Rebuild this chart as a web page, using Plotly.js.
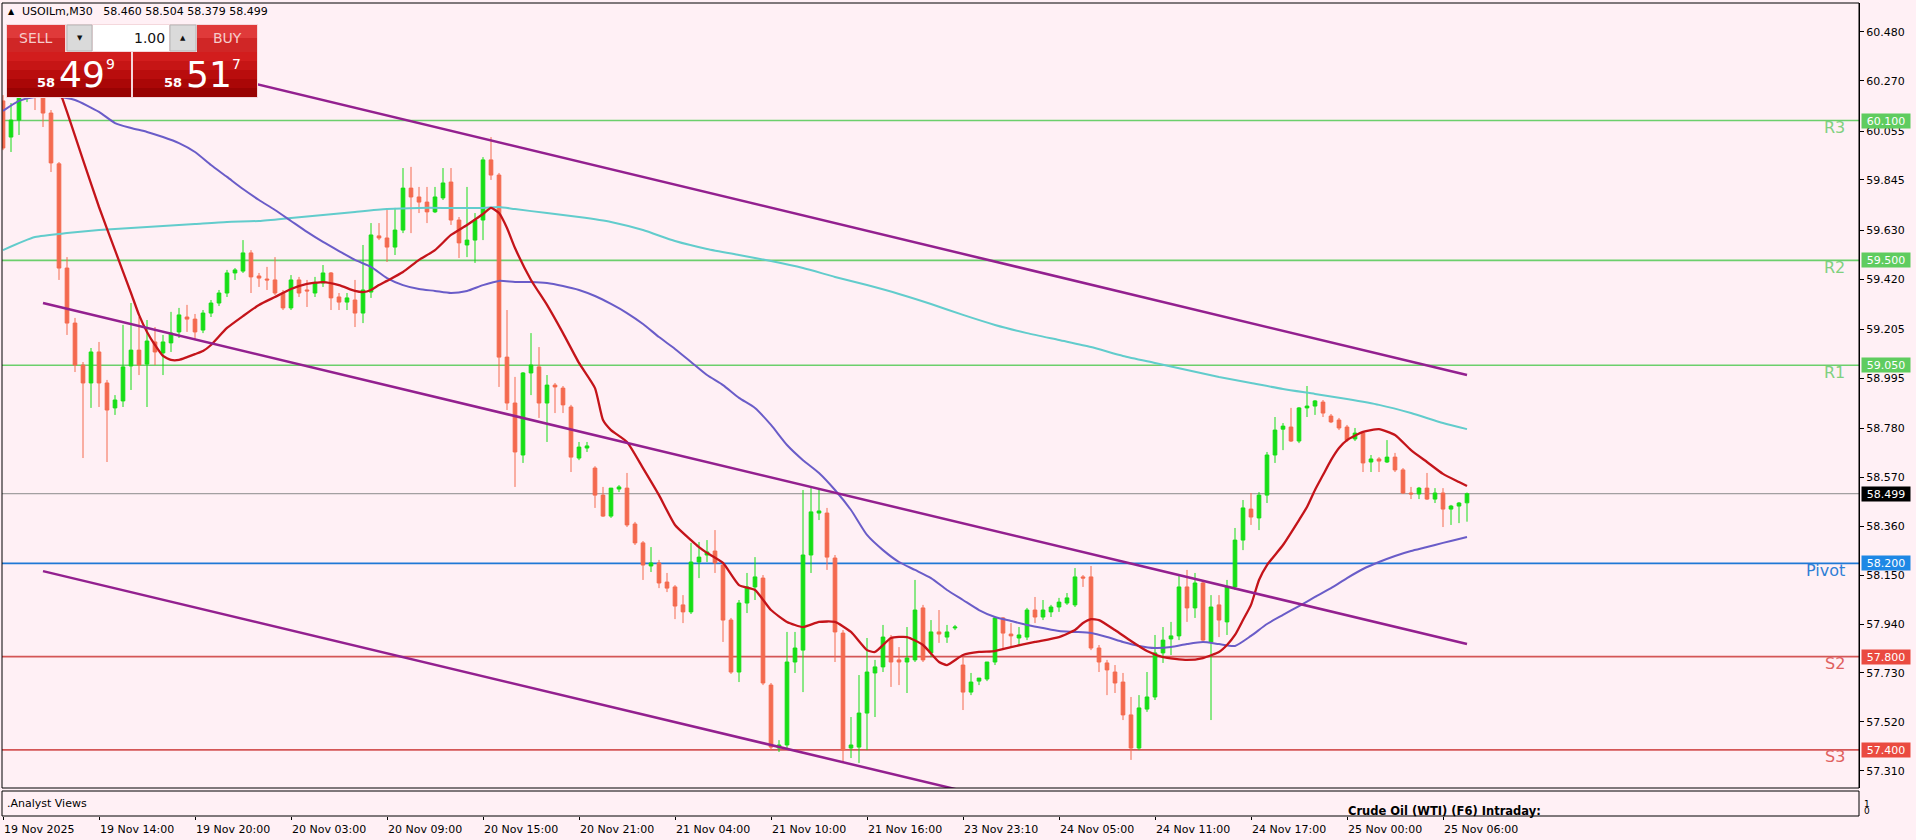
<!DOCTYPE html>
<html><head><meta charset="utf-8">
<script src="https://cdn.plot.ly/plotly-3.0.1.min.js"></script>
<style>html,body{margin:0;padding:0;background:#fff0f5;overflow:hidden}#chart{width:1916px;height:840px}</style>
</head><body><div id="chart"></div>
<script>
// ---------------- DATA ----------------
const symbolName = 'USOILm,M30';
const openP = [60.184,60.029,60.102,60.197,60.239,60.197,60.132,59.914,59.467,59.231,59.051,58.974,59.107,58.974,58.867,58.897,59.047,59.115,59.055,59.150,59.103,59.146,59.193,59.257,59.248,59.201,59.274,59.317,59.360,59.446,59.454,59.532,59.433,59.420,59.416,59.360,59.296,59.416,59.373,59.360,59.403,59.446,59.343,59.321,59.330,59.274,59.364,59.605,59.596,59.557,59.630,59.810,59.772,59.750,59.708,59.768,59.836,59.673,59.566,59.587,59.673,59.931,59.866,59.085,58.888,58.665,59.017,59.043,58.888,58.965,58.952,58.871,58.652,58.695,58.609,58.493,58.403,58.519,58.523,58.369,58.288,58.189,58.202,58.120,58.099,58.022,57.992,58.206,58.236,58.253,58.193,57.957,57.734,58.030,58.099,58.137,57.678,57.408,57.421,57.777,57.828,58.236,58.416,58.416,58.223,57.901,57.408,57.412,57.558,57.730,57.756,57.880,57.786,57.777,57.786,58.009,57.816,57.906,57.884,57.923,57.764,57.648,57.695,57.704,57.777,57.966,57.897,57.880,57.884,58.000,57.970,57.992,58.013,58.030,58.022,58.142,58.142,57.837,57.773,57.734,57.691,57.550,57.408,57.575,57.627,57.816,57.876,57.889,58.099,58.009,58.116,57.863,58.022,57.949,58.099,58.300,58.433,58.395,58.493,58.665,58.776,58.785,58.725,58.867,58.875,58.892,58.832,58.815,58.785,58.734,58.759,58.635,58.648,58.635,58.656,58.601,58.502,58.498,58.523,58.476,58.502,58.433,58.446,58.460];
const highP = [60.209,60.175,60.231,60.295,60.274,60.222,60.145,59.922,59.514,59.253,59.064,59.124,59.150,58.987,58.922,59.223,59.317,59.257,59.244,59.214,59.180,59.279,59.296,59.309,59.270,59.287,59.330,59.373,59.459,59.467,59.587,59.544,59.446,59.472,59.514,59.373,59.437,59.429,59.416,59.429,59.480,59.450,59.360,59.360,59.416,59.566,59.660,59.660,59.716,59.725,59.896,59.901,59.815,59.815,59.815,59.896,59.896,59.686,59.815,59.703,59.943,60.029,59.875,59.287,59.000,59.021,59.188,59.128,59.008,58.974,58.961,58.880,58.721,58.721,58.617,58.528,58.523,58.536,58.588,58.378,58.296,58.270,58.215,58.159,58.107,58.064,58.288,58.292,58.300,58.343,58.206,57.966,58.043,58.159,58.227,58.150,57.687,57.442,57.906,57.906,58.515,58.523,58.523,58.438,58.236,57.914,57.541,57.721,57.880,57.786,57.936,57.893,57.841,57.927,58.129,58.022,57.957,58.000,57.936,57.936,57.798,57.730,57.708,57.751,57.970,57.970,57.944,57.927,58.009,58.056,58.043,58.022,58.052,58.073,58.180,58.150,58.189,57.850,57.786,57.764,57.730,57.627,57.635,57.734,57.893,57.927,57.949,58.150,58.172,58.159,58.129,58.064,58.064,58.129,58.352,58.472,58.502,58.506,58.678,58.828,58.802,58.867,58.871,58.961,58.901,58.901,58.841,58.824,58.794,58.781,58.764,58.665,58.656,58.729,58.674,58.609,58.528,58.528,58.588,58.523,58.523,58.451,58.463,58.504];
const lowP = [59.973,59.965,60.038,60.179,60.145,60.072,59.879,59.416,59.180,59.021,58.652,58.867,58.871,58.635,58.837,58.871,58.944,59.008,58.871,59.051,59.008,59.107,59.167,59.193,59.158,59.188,59.257,59.304,59.343,59.416,59.446,59.360,59.386,59.373,59.351,59.287,59.287,59.343,59.300,59.343,59.386,59.287,59.287,59.287,59.214,59.231,59.339,59.587,59.493,59.523,59.617,59.617,59.703,59.660,59.703,59.759,59.652,59.510,59.514,59.489,59.587,59.845,58.957,58.858,58.528,58.631,58.922,58.824,58.721,58.845,58.845,58.592,58.643,58.678,58.438,58.399,58.395,58.506,58.356,58.279,58.129,58.163,58.094,58.077,57.961,57.944,57.983,58.137,58.206,58.159,57.863,57.726,57.691,57.987,58.043,57.678,57.399,57.391,57.408,57.730,57.648,58.159,58.386,58.172,57.777,57.344,57.365,57.344,57.399,57.541,57.734,57.670,57.678,57.644,57.777,57.777,57.798,57.859,57.859,57.914,57.571,57.635,57.678,57.695,57.764,57.828,57.841,57.850,57.871,57.944,57.957,57.970,57.992,58.022,58.013,58.099,57.828,57.734,57.635,57.644,57.528,57.357,57.399,57.563,57.614,57.773,57.807,57.871,57.949,57.966,57.863,57.528,57.884,57.893,58.086,58.257,58.365,58.343,58.459,58.631,58.686,58.721,58.716,58.828,58.837,58.828,58.802,58.772,58.721,58.725,58.592,58.592,58.592,58.631,58.592,58.498,58.476,58.476,58.472,58.459,58.356,58.365,58.373,58.379];
const closeP = [59.982,60.102,60.197,60.252,60.205,60.132,59.918,59.467,59.231,59.051,58.974,59.107,58.974,58.858,58.901,59.043,59.115,59.051,59.154,59.107,59.150,59.188,59.266,59.248,59.193,59.274,59.317,59.360,59.446,59.459,59.532,59.429,59.424,59.416,59.360,59.296,59.416,59.360,59.369,59.403,59.446,59.339,59.321,59.339,59.274,59.373,59.609,59.596,59.557,59.630,59.810,59.772,59.750,59.708,59.772,59.832,59.673,59.575,59.587,59.673,59.931,59.866,59.085,58.888,58.678,59.017,59.051,58.888,58.965,58.957,58.880,58.656,58.699,58.704,58.493,58.403,58.523,58.528,58.365,58.288,58.193,58.202,58.116,58.094,58.017,57.992,58.206,58.227,58.249,58.202,57.957,57.734,58.030,58.099,58.142,57.687,57.412,57.421,57.777,57.837,58.236,58.421,58.425,58.227,57.906,57.399,57.421,57.558,57.734,57.756,57.884,57.777,57.777,57.794,58.000,57.786,57.906,57.897,57.906,57.927,57.648,57.691,57.708,57.777,57.966,57.901,57.889,57.893,58.000,57.970,58.000,58.013,58.034,58.052,58.142,58.137,57.837,57.777,57.743,57.687,57.550,57.408,57.580,57.627,57.816,57.871,57.889,58.099,58.009,58.116,57.871,58.013,57.957,58.099,58.300,58.438,58.399,58.493,58.665,58.772,58.789,58.725,58.867,58.875,58.897,58.845,58.807,58.781,58.729,58.759,58.631,58.648,58.639,58.656,58.601,58.502,58.498,58.523,58.476,58.502,58.433,58.446,58.459,58.499];

// moving averages (bar index, price)
const maRedIdx = [5,7,8,10,12,14,16,17,18,19,20,21,22,23,24,25,26,28,30,32,34,36,38,40,42,44,45,46,47,48,50,52,54,56,58,60,61,62,63,64,66,68,70,72,74,75,76,78,80,82,84,86,87,88,90,92,94,96,98,100,102,104,106,108,109,111,113,115,117,118,120,122,124,126,129,132,134,135,136,137,139,141,143,145,148,150,152,153,154,155,156,157,158,160,162,163,164,165,166,167,168,170,172,174,176,178,180,182,183];
const maRedVal = [60.437,60.235,60.137,59.931,59.729,59.544,59.360,59.266,59.193,59.137,59.090,59.073,59.073,59.085,59.098,59.111,59.137,59.210,59.261,59.309,59.343,59.377,59.399,59.407,59.394,59.369,59.364,59.373,59.394,59.412,59.450,59.502,59.544,59.609,59.652,59.699,59.725,59.703,59.639,59.553,59.416,59.309,59.188,59.060,58.952,58.815,58.772,58.721,58.609,58.493,58.365,58.300,58.270,58.245,58.202,58.107,58.086,58.000,57.949,57.927,57.949,57.949,57.906,57.828,57.820,57.880,57.884,57.850,57.777,57.764,57.807,57.820,57.824,57.841,57.863,57.884,57.914,57.944,57.961,57.957,57.914,57.867,57.824,57.798,57.786,57.794,57.820,57.850,57.893,57.957,58.022,58.129,58.193,58.279,58.386,58.442,58.515,58.579,58.643,58.695,58.729,58.764,58.776,58.751,58.686,58.635,58.584,58.549,58.532];
const maBlueIdx = [0,2,4,7,9,12,14,16,18,20,22,24,26,28,30,32,34,36,38,40,42,44,46,48,50,52,54,56,58,60,62,64,66,68,70,72,74,76,78,80,82,84,86,88,90,92,94,96,98,100,102,104,106,108,110,112,114,116,118,120,122,124,126,128,130,132,134,136,138,140,142,144,146,148,150,152,154,156,158,160,162,164,166,168,170,172,174,176,178,180,182,183];
const maBlueVal = [60.141,60.184,60.201,60.201,60.188,60.137,60.089,60.068,60.051,60.029,60.003,59.965,59.909,59.858,59.806,59.759,59.716,59.669,59.622,59.579,59.540,59.502,59.472,59.424,59.394,59.377,59.369,59.360,59.369,59.394,59.412,59.407,59.407,59.403,59.390,59.373,59.347,59.313,59.274,59.227,59.171,59.120,59.064,59.008,58.965,58.910,58.867,58.794,58.708,58.643,58.588,58.515,58.429,58.322,58.257,58.206,58.172,58.137,58.086,58.043,58.000,57.970,57.953,57.936,57.923,57.910,57.906,57.901,57.884,57.863,57.846,57.837,57.841,57.854,57.863,57.854,57.846,57.889,57.940,57.979,58.017,58.056,58.094,58.137,58.176,58.206,58.232,58.253,58.270,58.288,58.305,58.313];
const maCyanIdx = [0,4,8,12,16,20,24,28,32,36,40,44,48,52,56,60,62,64,68,72,76,80,84,88,92,96,100,104,108,112,116,120,124,128,132,136,140,144,148,152,156,160,164,168,172,176,180,183];
const maCyanVal = [59.544,59.600,59.617,59.630,59.639,59.647,59.656,59.665,59.669,59.682,59.695,59.708,59.720,59.725,59.725,59.725,59.729,59.720,59.703,59.686,59.665,59.630,59.583,59.549,59.523,59.497,59.467,59.429,59.394,59.356,59.313,59.266,59.223,59.188,59.158,59.128,59.090,59.060,59.030,59.000,58.974,58.948,58.927,58.905,58.880,58.845,58.802,58.776];

// channel lines (bar index, price)
const trendUpperIdx = [24.6, 183], trendUpperVal = [60.315, 59.008];
const trendMidIdx = [5, 183], trendMidVal = [59.317, 57.854];
const trendLowIdx = [5, 120], trendLowVal = [58.167, 57.224];

// levels
const levelNames = ['R3','R2','R1','Pivot','S2','S3'];
const levelValues = [60.100, 59.500, 59.050, 58.200, 57.800, 57.400];
const levelKinds = ['r','r','r','p','s','s'];
const currentBid = 58.499, currentAsk = 58.517, lotText = '1.00';

// axis ticks
const priceTicks = [60.480,60.270,60.055,59.845,59.630,59.420,59.205,58.995,58.780,58.570,58.360,58.150,57.940,57.730,57.520,57.310];
const dateTickIdx = [0,12,24,36,48,60,72,84,96,108,120,132,144,156,168,180];
const dateTickText = ['19 Nov 2025','19 Nov 14:00','19 Nov 20:00','20 Nov 03:00','20 Nov 09:00','20 Nov 15:00','20 Nov 21:00','21 Nov 04:00','21 Nov 10:00','21 Nov 16:00','23 Nov 23:10','24 Nov 05:00','24 Nov 11:00','24 Nov 17:00','25 Nov 00:00','25 Nov 06:00'];

// ---------------- LAYOUT HELPERS ----------------
const PL = 2, PR = 1859, PT = 3, PB = 816;
const px = x => (x - PL) / (PR - PL);
const py = y => (PB - y) / (PB - PT);
const FONT = 'DejaVu Sans';
const barIdx = openP.map((_, i) => i);

const COL = {
  up: '#16de16', down: '#f46a4f', red: '#c4141a', blue: '#6a5cc8', cyan: '#62cccc', purple: '#93208f',
  rLine: '#6ccf6c', rTag: '#5fcc5f', rText: '#7fd07f',
  pLine: '#1f78d6', pTag: '#1e88e5', pText: '#2f7fd6',
  sLine: '#d45656', sTag: '#ea4a40', sText: '#e06060'
};

const traces = [
  {type:'candlestick', x:barIdx, open:openP, high:highP, low:lowP, close:closeP,
   increasing:{line:{color:COL.up, width:1}, fillcolor:COL.up},
   decreasing:{line:{color:COL.down, width:1}, fillcolor:COL.down},
   whiskerwidth:0, hoverinfo:'skip', showlegend:false},
  {type:'scatter', mode:'lines', x:maCyanIdx, y:maCyanVal, line:{color:COL.cyan, width:2, shape:'spline', smoothing:0.6}, hoverinfo:'skip', showlegend:false},
  {type:'scatter', mode:'lines', x:maBlueIdx, y:maBlueVal, line:{color:COL.blue, width:2, shape:'spline', smoothing:0.6}, hoverinfo:'skip', showlegend:false},
  {type:'scatter', mode:'lines', x:maRedIdx, y:maRedVal, line:{color:COL.red, width:2.3, shape:'spline', smoothing:0.5}, hoverinfo:'skip', showlegend:false},
  {type:'scatter', mode:'lines', x:trendUpperIdx, y:trendUpperVal, line:{color:COL.purple, width:2.5}, hoverinfo:'skip', showlegend:false},
  {type:'scatter', mode:'lines', x:trendMidIdx, y:trendMidVal, line:{color:COL.purple, width:2.5}, hoverinfo:'skip', showlegend:false},
  {type:'scatter', mode:'lines', x:trendLowIdx, y:trendLowVal, line:{color:COL.purple, width:2.5}, hoverinfo:'skip', showlegend:false}
];

const shapes = [];
const annotations = [];
function rect(x0,y0,x1,y1,fill,line,lw){
  shapes.push({type:'rect', xref:'paper', yref:'paper', x0:px(x0), x1:px(x1), y0:py(y1), y1:py(y0),
    fillcolor:fill, line:{color:line||'rgba(0,0,0,0)', width:lw||0}, layer:'above'});
}
function txt(x,y,text,size,color,xanchor,opts){
  annotations.push(Object.assign({xref:'paper', yref:'paper', x:px(x), y:py(y), text:text, showarrow:false,
    xanchor:xanchor||'left', yanchor:'middle', font:{family:FONT, size:size, color:color}, borderpad:0}, opts||{}));
}

// levels
levelValues.forEach((v, k) => {
  const kind = levelKinds[k];
  const lc = kind==='r'?COL.rLine:kind==='p'?COL.pLine:COL.sLine;
  const tc = kind==='r'?COL.rTag:kind==='p'?COL.pTag:COL.sTag;
  const xc = kind==='r'?COL.rText:kind==='p'?COL.pText:COL.sText;
  shapes.push({type:'line', xref:'paper', x0:0, x1:1, yref:'y', y0:v, y1:v, line:{color:lc, width:1.7}, layer:'below'});
  annotations.push({xref:'paper', x:px(1847), xanchor:'right', yref:'y', y:v, yanchor:'middle', yshift:-7,
    text:levelNames[k], showarrow:false, font:{family:FONT, size:16, color:xc}});
  annotations.push({xref:'paper', x:px(1861), xanchor:'left', yref:'y', y:v, yanchor:'middle',
    text:v.toFixed(3), showarrow:false, bgcolor:tc, width:46, height:12, borderpad:1, align:'center',
    font:{family:FONT, size:11, color:'#ffffff'}});
});
// current bid line + tag
shapes.push({type:'line', xref:'paper', x0:0, x1:1, yref:'y', y0:currentBid, y1:currentBid, line:{color:'#8c8c8c', width:1}, layer:'below'});
annotations.push({xref:'paper', x:px(1861), xanchor:'left', yref:'y', y:currentBid, yanchor:'middle',
  text:currentBid.toFixed(3), showarrow:false, bgcolor:'#000000', width:46, height:12, borderpad:1, align:'center',
  font:{family:FONT, size:11, color:'#ffffff'}});

// borders
shapes.push({type:'rect', xref:'paper', yref:'paper', x0:0, x1:1, y0:py(788), y1:1, line:{color:'#000', width:1}, layer:'above'});
shapes.push({type:'rect', xref:'paper', yref:'paper', x0:0, x1:1, y0:0, y1:py(791), line:{color:'#000', width:1}, layer:'above'});

// sub window texts
txt(6, 803, '.Analyst Views', 11, '#000', 'left');
txt(1347, 811, '<b>Crude Oil (WTI) (F6) Intraday:</b>', 11.5, '#000', 'left');
txt(1863, 804, '1', 9, '#000', 'left');
txt(1863, 811, '0', 9, '#000', 'left');

// date labels
dateTickIdx.forEach((d, k) => {
  annotations.push({xref:'x', x:d, xanchor:'left', yref:'paper', y:py(829), yanchor:'middle', text:dateTickText[k],
    showarrow:false, font:{family:FONT, size:11, color:'#000'}, borderpad:0});
});

// header
const last = openP.length - 1;
const nb = '\u00a0';
txt(11, 12, '▲', 8, '#000', 'center');
txt(21, 12, symbolName + nb+nb+nb + openP[last].toFixed(3) + nb + highP[last].toFixed(3) + nb + lowP[last].toFixed(3) + nb + closeP[last].toFixed(3), 11, '#000', 'left');

// trade panel
rect(6, 24, 258, 98, '#f4d8dc');
rect(7, 25, 65, 38, '#e03a3a'); rect(7, 38, 65, 52, '#d02626');
rect(197, 25, 257, 38, '#e03a3a'); rect(197, 38, 257, 52, '#d02626');
rect(67, 25, 92, 51, '#dadada', '#b5b5b5', 1);
rect(170, 25, 196, 51, '#dadada', '#b5b5b5', 1);
rect(93, 25, 169, 51, '#ffffff');
const bands = ['#d21d1d','#c61515','#b90d0d','#aa0707','#990303'];
[[7,131],[133,257]].forEach(([a,b]) => {
  bands.forEach((c, k) => rect(a, 52 + k*9, b, 52 + (k+1)*9, c));
});
txt(36, 38, 'SELL', 14, '#f6cccc', 'center');
txt(79.5, 38, '▼', 7, '#111', 'center');
txt(166, 38, lotText, 14, '#111', 'right');
txt(183, 38, '▲', 7, '#111', 'center');
txt(227, 38, 'BUY', 14, '#f6cccc', 'center');
function priceParts(p){ const s = p.toFixed(3); return [s.slice(0,2), s.slice(3,5), s.slice(5)]; }
const bp = priceParts(currentBid), ap = priceParts(currentAsk);
txt(56, 82, '<b>'+bp[0]+'</b>', 13, '#ffffff', 'right');
txt(58, 74, bp[1], 36, '#ffffff', 'left');
txt(105, 64, bp[2], 14, '#ffffff', 'left');
txt(183, 82, '<b>'+ap[0]+'</b>', 13, '#ffffff', 'right');
txt(185, 74, ap[1], 36, '#ffffff', 'left');
txt(231, 64, ap[2], 14, '#ffffff', 'left');

const layout = {
  width:1916, height:840,
  margin:{l:PL, r:1916-PR, t:PT, b:840-PB, pad:0},
  paper_bgcolor:'#fff0f5', plot_bgcolor:'#fff0f5',
  showlegend:false, hovermode:false, boxgap:0.35,
  font:{family:FONT, size:11, color:'#000'},
  xaxis:{range:[-0.125, 232], anchor:'free', position:0, showgrid:false, zeroline:false, showline:false,
    rangeslider:{visible:false}, tickvals:dateTickIdx, ticktext:dateTickText, showticklabels:false,
    ticks:'outside', ticklen:3, tickcolor:'#000', fixedrange:true},
  yaxis:{domain:[py(788), 1], range:[57.2365, 60.6041], side:'right', anchor:'x',
    tickvals:priceTicks, ticktext:priceTicks.map(v => v.toFixed(3)), ticks:'outside', ticklen:4, tickcolor:'#000',
    showline:true, linecolor:'#000', linewidth:1, showgrid:false, zeroline:false,
    tickfont:{family:FONT, size:11, color:'#000'}, fixedrange:true},
  shapes:shapes, annotations:annotations
};
Plotly.newPlot('chart', traces, layout, {displayModeBar:false, staticPlot:true});
</script></body></html>
